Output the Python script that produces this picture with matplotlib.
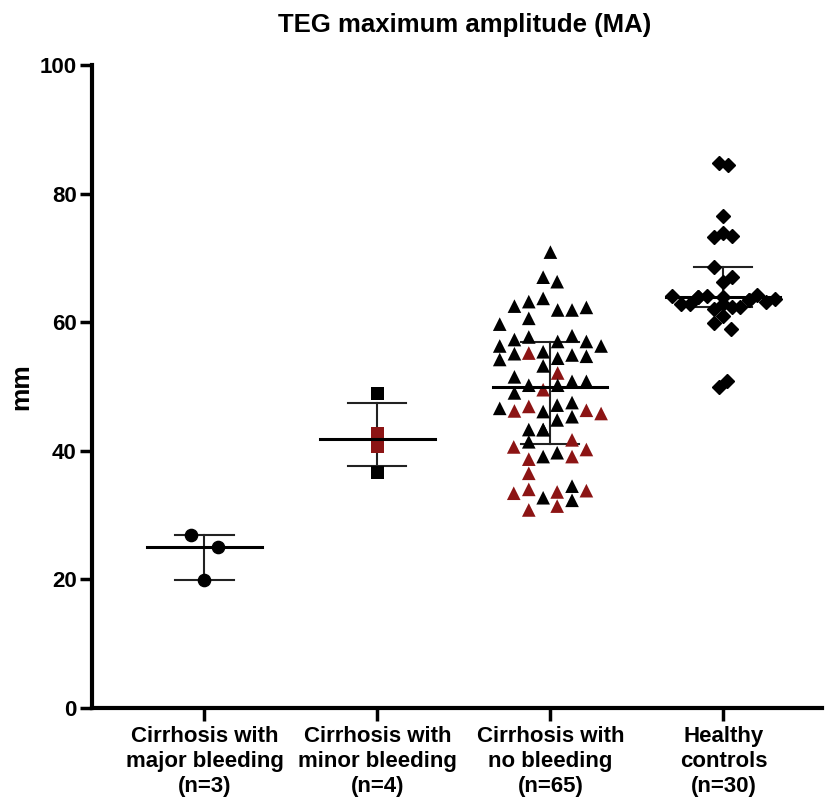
import matplotlib.pyplot as plt
import numpy as np

plt.rcParams['font.family'] = ['Liberation Sans', 'DejaVu Sans']
plt.rcParams['font.weight'] = 'bold'

RED = '#8c1414'

groups = ['Cirrhosis with\nmajor bleeding\n(n=3)',
          'Cirrhosis with\nminor bleeding\n(n=4)',
          'Cirrhosis with\nno bleeding\n(n=65)',
          'Healthy\ncontrols\n(n=30)']

# median and error bar ends per group
centre = [25.0, 41.8, 49.9, 63.9]
low = [19.9, 37.6, 41.0, 62.4]
high = [26.9, 47.5, 56.9, 68.6]

# group 1: circles (x offset, value)
g1_off = [-0.077, 0.077, 0.0]
g1_val = [26.9, 25.0, 19.9]

# group 2: squares
g2_off = [0.0, 0.0, 0.0, 0.0]
g2_val = [48.9, 42.7, 40.6, 36.6]
g2_red = [False, True, True, False]

# group 3: triangles
g3_off = [0.0, -0.042, 0.039, -0.208, -0.125, -0.042, 0.042, 0.125, 0.208,
          -0.125, -0.293, -0.208, -0.125, -0.293, 0.042, 0.125, 0.208, 0.293,
          -0.208, -0.125, -0.042, -0.293, 0.042, 0.125, 0.208, -0.042, 0.042,
          -0.208, -0.125, -0.042, 0.042, 0.125, 0.208, -0.208,
          -0.293, -0.208, -0.125, -0.042, 0.039, 0.125, 0.208, 0.293,
          0.039, 0.125, -0.125, -0.042, -0.042, -0.125, -0.212, 0.125, 0.208,
          -0.125, -0.042, 0.039, 0.125, -0.125, 0.125, -0.212, -0.125,
          0.039, 0.208, -0.042, 0.125, 0.039, -0.125]
g3_val = [70.9, 67.0, 66.3, 62.5, 63.2, 63.7, 61.9, 61.9, 62.3,
          60.6, 59.7, 57.3, 57.7, 56.3, 57.0, 57.9, 57.0, 56.3,
          55.1, 55.2, 55.4, 54.2, 54.4, 54.9, 54.7, 53.2, 52.1,
          51.5, 50.2, 49.5, 50.2, 50.8, 50.8, 49.0,
          46.6, 46.2, 46.9, 46.1, 47.1, 47.5, 46.3, 45.8,
          44.8, 45.3, 43.3, 43.3, 43.3, 41.4, 40.6, 41.7, 40.2,
          38.7, 39.1, 39.7, 39.1, 36.5, 34.5, 33.4, 34.0,
          33.6, 33.8, 32.7, 32.3, 31.4, 30.8]
g3_red = [0, 0, 0, 0, 0, 0, 0, 0, 0,
          0, 0, 0, 0, 0, 0, 0, 0, 0,
          0, 1, 0, 0, 0, 0, 0, 0, 1,
          0, 0, 1, 0, 0, 0, 0,
          0, 1, 1, 0, 0, 0, 1, 1,
          0, 0, 0, 0, 0, 0, 1, 1, 1,
          1, 0, 0, 1, 1, 0, 1, 1,
          1, 1, 0, 0, 1, 1]

# group 4: diamonds
g4_off = [-0.027, 0.027, 0.0, -0.052, 0.0, 0.050, -0.052, 0.050, 0.0,
          -0.297, -0.245, -0.195, -0.149, -0.094, 0.146, 0.195, 0.249, 0.297,
          -0.052, 0.0, 0.050, 0.098, -0.052, 0.0, 0.046, -0.027, 0.021,
          0.0, -0.149, 0.146]
g4_val = [84.8, 84.4, 76.5, 73.2, 73.9, 73.4, 68.6, 67.0, 66.2,
          64.0, 62.8, 62.8, 63.9, 64.0, 63.5, 64.3, 63.2, 63.6,
          62.0, 62.8, 62.4, 62.4, 59.9, 60.9, 59.0, 50.0, 50.9,
          63.9, 63.9, 63.5]

fig = plt.figure(figsize=(8.26, 8.01), dpi=100)
ax = fig.add_axes([92 / 826, 93 / 801, 730 / 826, 643 / 801])

pos = np.arange(1, 5)

# whiskers and caps under the points
for i in range(4):
    ax.plot([pos[i], pos[i]], [low[i], high[i]], color='#222222', lw=1.5, zorder=2)
    for v in (low[i], high[i]):
        ax.plot([pos[i] - 0.168, pos[i] + 0.168], [v, v], color='#222222', lw=1.5, zorder=2)

ax.plot(pos[0] + np.array(g1_off), g1_val, 'o', color='black', ms=8.8, ls='none', zorder=3)

c2 = [RED if r else 'black' for r in g2_red]
ax.scatter(pos[1] + np.array(g2_off), g2_val, marker='s', c=c2, s=9.4 ** 2, zorder=3, linewidths=0)

c3 = [RED if r else 'black' for r in g3_red]
ax.scatter(pos[2] + np.array(g3_off), g3_val, marker='^', c=c3, s=9.8 ** 2, zorder=3, linewidths=0)

ax.plot(pos[3] + np.array(g4_off), g4_val, 'D', color='black', ms=7.2, ls='none', zorder=3)

# median lines on top
for i in range(4):
    ax.plot([pos[i] - 0.33, pos[i] + 0.33], [centre[i], centre[i]], color='black', lw=2.2, zorder=4)

ax.set_xlim(0.35, 4.57)
ax.set_ylim(0, 100)
ax.set_yticks([0, 20, 40, 60, 80, 100])
ax.set_xticks(pos)
ax.set_xticklabels(groups, fontsize=16, fontweight='bold', linespacing=1.25)
ax.tick_params(axis='y', labelsize=16, width=2.5, length=9, pad=2)
ax.tick_params(axis='x', width=2.5, length=9, pad=4)
for lab in ax.get_yticklabels():
    lab.set_fontweight('bold')

for s in ('top', 'right'):
    ax.spines[s].set_visible(False)
for s in ('left', 'bottom'):
    ax.spines[s].set_linewidth(3)

ax.set_ylabel('mm', fontsize=19, fontweight='bold')
ax.yaxis.set_label_coords(-0.081, 0.5)
fig.text(465 / 826, 1 - 25 / 801, 'TEG maximum amplitude (MA)', ha='center', va='center',
         fontsize=18.5, fontweight='bold')

fig.savefig('out.png', dpi=100)
